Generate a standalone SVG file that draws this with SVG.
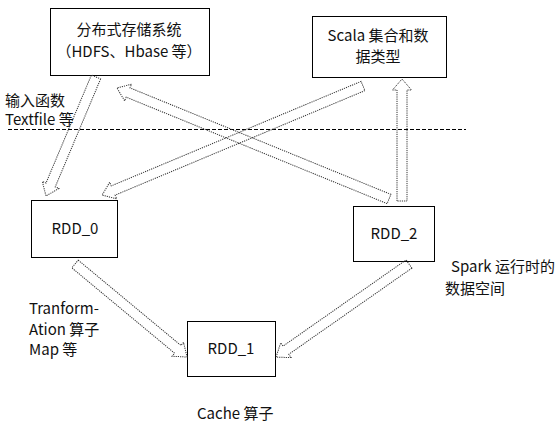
<svg xmlns="http://www.w3.org/2000/svg" width="558" height="429" viewBox="0 0 558 429">
<style>
  .box{fill:#fff;stroke:#000;stroke-width:1}
  text{font-family:"Noto Sans CJK SC","Liberation Sans",sans-serif;font-size:15px;fill:#111}
  .c{text-anchor:middle}
  .arr{fill:none;stroke:#333;stroke-width:1;stroke-dasharray:1.2 1}
  .dash{stroke:#000;stroke-width:1;stroke-dasharray:4 2}
</style>
<rect width="558" height="429" fill="#fff"/>
<line class="dash" x1="8" y1="129.5" x2="466" y2="129.5"/>
<g id="storage">
  <rect class="box" x="50.5" y="8.5" width="159" height="67"/>
  <text class="c" x="129" y="35">分布式存储系统</text>
  <text class="c" x="129" y="57">（HDFS、Hbase 等）</text>
</g>
<g id="scala">
  <rect class="box" x="312.5" y="16.5" width="134" height="61"/>
  <text class="c" x="378" y="41">Scala 集合和数</text>
  <text class="c" x="378" y="62">据类型</text>
</g>
<g id="rdd0">
  <rect class="box" x="31.5" y="200.5" width="86" height="57"/>
  <text class="c" x="75" y="234">RDD_0</text>
</g>
<g id="rdd1">
  <rect class="box" x="187.5" y="321.5" width="88" height="55"/>
  <text class="c" x="231" y="354">RDD_1</text>
</g>
<g id="rdd2">
  <rect class="box" x="353.5" y="206.5" width="81" height="55"/>
  <text class="c" x="394" y="239">RDD_2</text>
</g>
<g id="connectors">
  <polygon class="arr" transform="translate(96,77) rotate(112.8)" points="0,-5 117.1,-5 117.1,-9 129.1,0 117.1,9 117.1,5 0,5"/>
  <polygon class="arr" transform="translate(363,86) rotate(157.3)" points="0,-5 270.8,-5 270.8,-9 282.8,0 270.8,9 270.8,5 0,5"/>
  <polygon class="arr" transform="translate(389,199) rotate(-157.8)" points="0,-5 281.8,-5 281.8,-9 293.8,0 281.8,9 281.8,5 0,5"/>
  <polygon class="arr" transform="translate(402,201) rotate(-90)" points="0,-5 111,-5 111,-9.5 122,0 111,9.5 111,5 0,5"/>
  <polygon class="arr" transform="translate(75,264) rotate(39.7)" points="0,-5 133.6,-5 133.6,-9 145.6,0 133.6,9 133.6,5 0,5"/>
  <polygon class="arr" transform="translate(409,264) rotate(145)" points="0,-5 150.3,-5 150.3,-9 162.3,0 150.3,9 150.3,5 0,5"/>
</g>
<g id="labels">
  <text x="5" y="106">输入函数</text>
  <text x="5" y="125">Textfile 等</text>
  <text x="29" y="314">Tranform-</text>
  <text x="29" y="335">Ation 算子</text>
  <text x="29" y="355">Map 等</text>
  <text x="197" y="419">Cache 算子</text>
  <text x="451" y="272">Spark 运行时的</text>
  <text x="445" y="294">数据空间</text>
</g>
</svg>
